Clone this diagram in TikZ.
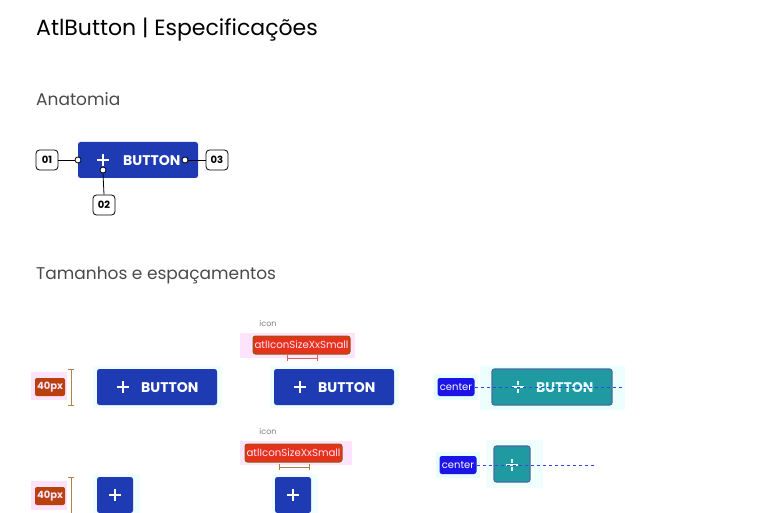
\documentclass[tikz,border=0pt]{standalone}
\usepackage{fontspec}
\setmainfont{Poppins}
\usetikzlibrary{calc}
\definecolor{btnblue}{HTML}{1F3BB3}
\definecolor{teal1}{HTML}{1E9AA0}
\definecolor{tealbd}{HTML}{4A6A9E}
\definecolor{halocyan}{HTML}{E6FEFE}
\definecolor{halopink}{HTML}{FDE3FB}
\definecolor{tagred}{HTML}{E6321A}
\definecolor{tagbrown}{HTML}{B8410F}
\definecolor{olive}{HTML}{8A5A10}
\definecolor{brack}{HTML}{B0834A}
\definecolor{measred}{HTML}{E0605A}
\definecolor{centerblue}{HTML}{1C14E8}
\definecolor{dashblue}{HTML}{3048E0}
\definecolor{graytxt}{HTML}{4A4A4A}
\tikzset{
  btn/.style={fill=btnblue, rounded corners=2.5pt, inner sep=0pt},
  tealbtn/.style={fill=teal1, draw=tealbd, line width=1.2pt, rounded corners=2.5pt, inner sep=0pt},
  btntxt/.style={text=white, font=\bfseries\fontsize{14}{14}\selectfont, inner sep=0pt},
  callout/.style={draw=black, fill=white, rounded corners=3.5pt, line width=0.8pt, minimum width=22pt, minimum height=20pt, inner sep=0pt, font=\bfseries\fontsize{10}{10}\selectfont},
  dotc/.style={circle, draw=black, fill=white, line width=0.8pt, minimum size=6pt, inner sep=0pt},
  conn/.style={line width=0.8pt, draw=black},
  pxtag/.style={fill=tagbrown, rounded corners=2pt, text=halopink, font=\bfseries\fontsize{10}{10}\selectfont, minimum width=30pt, minimum height=18pt, inner sep=0pt},
  icontag/.style={fill=tagred, draw=olive, line width=1pt, rounded corners=2.5pt, text=halopink, font=\fontsize{10.2}{10.2}\selectfont, minimum width=97pt, minimum height=18pt, inner sep=0pt},
  centertag/.style={fill=centerblue, rounded corners=2.5pt, text=white, font=\fontsize{10}{10}\selectfont, minimum width=37pt, minimum height=18pt, inner sep=0pt},
  brk/.style={draw=brack, line width=1pt},
  meas/.style={draw=measred, line width=1pt},
  dashln/.style={draw=dashblue, dashed, dash pattern=on 3pt off 3pt, line width=0.9pt},
  plusln/.style={draw=white, line width=1.6pt},
  smalltxt/.style={text=gray, font=\fontsize{8}{8}\selectfont, inner sep=0pt},
}
\begin{document}
\begin{tikzpicture}[x=1pt,y=-1pt]
\useasboundingbox (0,0) rectangle (768,513);
\fill[white] (0,0) rectangle (768,513);

% headings
\node[anchor=base west, inner sep=0pt, font=\fontsize{22}{22}\selectfont] (title) at (36,36) {AtlButton | Especificações};
\node[anchor=base west, inner sep=0pt, text=graytxt, font=\fontsize{17}{17}\selectfont] (anat) at (36,106) {Anatomia};
\node[anchor=base west, inner sep=0pt, text=graytxt, font=\fontsize{17}{17}\selectfont] (tam) at (36,279) {Tamanhos e espaçamentos};

% anatomy
\node[btn, minimum width=120pt, minimum height=36pt] (abtn) at (138,160) {};
\draw[plusln] (97,160) -- (109,160) (103,154) -- (103,166);
\node[btntxt, anchor=west] (atxt) at (123,161) {BUTTON};
\node[callout] (c1) at (47,160) {01};
\node[callout] (c2) at (104,205) {02};
\node[callout] (c3) at (217,160) {03};
\node[dotc] (d1) at (78,160) {};
\node[dotc] (d2) at (103,170) {};
\node[dotc] (d3) at (185,160) {};
\draw[conn] (c1.east) -- (d1.west);
\draw[conn] (d2.south) -- (c2.north);
\draw[conn] (d3.east) -- (c3.west);

% ---------- row 1 ----------
\fill[halopink] (31,372) rectangle (67,400);
\node[pxtag] (px1) at (50,387) {40px};
\coordinate (b1t) at (71,369);
\coordinate (b1b) at (71,405);
\draw[brk] (b1t) -- (b1b) ($(b1t)+(-3,0)$) -- ($(b1t)+(3,0)$) ($(b1b)+(-3,0)$) -- ($(b1b)+(3,0)$);

\fill[halocyan!60] (93,366) rectangle (222,408);
\node[btn, minimum width=120pt, minimum height=36pt] (r1b1) at (157,387) {};
\draw[plusln] (117,387) -- (129,387) (123,381) -- (123,393);
\node[btntxt, anchor=west] at (141,388) {BUTTON};

\node[smalltxt] (ic1) at (268,323) {icon};
\fill[halopink] (240,333) rectangle (355,358);
\node[icontag] (it1) at (301.5,345) {atlIconSizeXxSmall};
\draw[meas] (287,358) -- (317,358) (287,355) -- (287,361) (317,355) -- (317,361);
\fill[halocyan!60] (270,366) rectangle (399,408);
\node[btn, minimum width=120pt, minimum height=36pt] (r1b2) at (334,387) {};
\draw[plusln] (294,387) -- (306,387) (300,381) -- (300,393);
\node[btntxt, anchor=west] at (318,388) {BUTTON};

\fill[halocyan] (434,374) rectangle (478,400);
\fill[halocyan!70] (480,366) rectangle (625,410);
\node[centertag] (ct1) at (456,387) {center};
\node[tealbtn, minimum width=120pt, minimum height=36pt] (r1b3) at (552,387) {};
\draw[draw=halocyan, line width=1.6pt] (512,387) -- (524,387) (518,381) -- (518,385) (518,389) -- (518,393);
\node[btntxt, anchor=west, text=halocyan] at (536,388) {BUTTON};
\coordinate (dl1) at (622,387);
\draw[dashln] (ct1.east) -- (dl1);

% ---------- row 2 ----------
\fill[halopink] (31,481) rectangle (67,510);
\node[pxtag] (px2) at (50,496) {40px};
\coordinate (b2t) at (71,477);
\coordinate (b2b) at (71,520);
\draw[brk] (b2t) -- (b2b) ($(b2t)+(-3,0)$) -- ($(b2t)+(3,0)$);

\fill[halocyan!60] (93,474) rectangle (140,520);
\node[btn, minimum width=36pt, minimum height=36pt] (r2b1) at (115,495) {};
\draw[plusln] (109,495) -- (121,495) (115,489) -- (115,501);

\node[smalltxt] (ic2) at (268,431) {icon};
\fill[halopink] (240,441) rectangle (352,465);
\node[icontag] (it2) at (293.5,453) {atlIconSizeXxSmall};
\draw[brk] (279,467) -- (309,467) (279,464) -- (279,470) (309,464) -- (309,470);
\fill[halocyan!60] (272,474) rectangle (318,520);
\node[btn, minimum width=36pt, minimum height=36pt] (r2b2) at (293,495) {};
\draw[plusln] (287,495) -- (299,495) (293,489) -- (293,501);

\fill[halocyan] (436,452) rectangle (480,478);
\fill[halocyan!60] (486,440) rectangle (543,488);
\node[centertag] (ct2) at (458,465) {center};
\node[tealbtn, minimum width=36pt, minimum height=36pt] (r2b3) at (512,464) {};
\draw[draw=halocyan, line width=1.6pt] (506,465) -- (518,465) (512,459) -- (512,463) (512,467) -- (512,471);
\coordinate (dl2) at (596,465);
\draw[dashln] (ct2.east) -- (dl2);
\end{tikzpicture}
\end{document}
